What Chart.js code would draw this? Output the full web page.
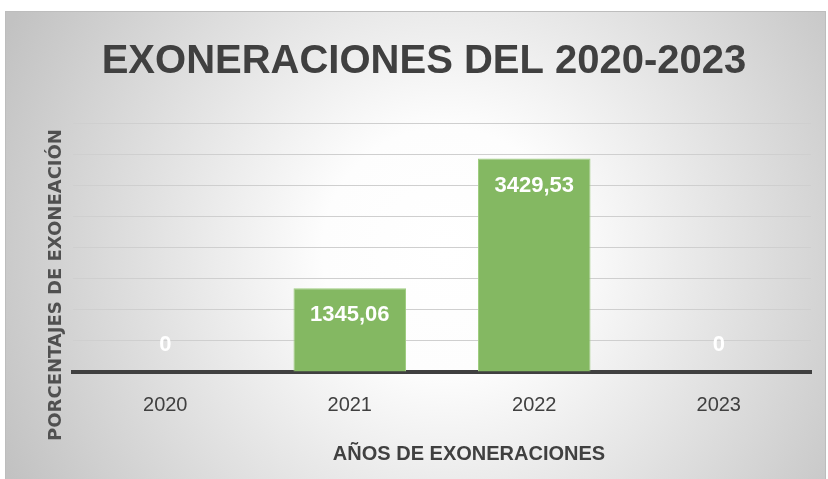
<!DOCTYPE html>
<html>
<head>
<meta charset="utf-8">
<script src="https://cdn.jsdelivr.net/npm/chart.js"></script>
<style>
  html, body { margin: 0; padding: 0; background: #fff; }
  #wrap { width: 828px; height: 479px; position: relative; }
</style>
</head>
<body>
<div id="wrap"><canvas id="exoChart"></canvas></div>
<script>
// datos del grafico
var categorias = ['2020', '2021', '2022', '2023'];
var exoneraciones = [0, 1345.06, 3429.53, 0];
var ejeY = [0, 4000, 500]; // min, max, paso

var fuente = '"Liberation Sans", Arial, sans-serif';

// fondo con degradado radial y marco
var fondo = {
    id: 'fondo',
    beforeDraw: function (chart) {
        var ctx = chart.ctx;
        ctx.save();
        ctx.fillStyle = '#ffffff';
        ctx.fillRect(0, 0, chart.width, chart.height);
        var g = ctx.createRadialGradient(445, 250, 0, 445, 250, 490);
        g.addColorStop(0, '#ffffff');
        g.addColorStop(0.25, '#fdfdfd');
        g.addColorStop(1, '#c2c2c2');
        ctx.fillStyle = g;
        ctx.fillRect(5, 11, 820, 470);
        ctx.strokeStyle = '#bdbdbd';
        ctx.lineWidth = 1;
        ctx.strokeRect(5.5, 11.5, 820, 470);
        ctx.restore();
    }
};

// etiquetas de datos y titulos de ejes
var etiquetas = {
    id: 'etiquetas',
    afterDatasetsDraw: function (chart) {
        var ctx = chart.ctx;
        var meta = chart.getDatasetMeta(0);
        ctx.save();
        ctx.fillStyle = '#ffffff';
        ctx.font = 'bold 22px ' + fuente;
        ctx.textAlign = 'center';
        ctx.textBaseline = 'middle';
        meta.data.forEach(function (bar, i) {
            var v = exoneraciones[i];
            var txt = v === 0 ? '0' : v.toFixed(2).replace('.', ',');
            var y = v === 0 ? bar.base - 27 : bar.y + 27;
            ctx.fillText(txt, bar.x, y);
        });
        ctx.restore();
    },
    afterDraw: function (chart) {
        var ctx = chart.ctx;
        ctx.save();
        ctx.textAlign = 'center';
        ctx.textBaseline = 'middle';
        ctx.fillStyle = '#404040';
        ctx.font = 'bold 20px ' + fuente;
        ctx.fillText('AÑOS DE EXONERACIONES', 469, 454);
        ctx.translate(56, 285);
        ctx.rotate(-Math.PI / 2);
        ctx.fillStyle = '#505050';
        ctx.font = 'bold 18px "DejaVu Sans", sans-serif';
        ctx.fillText('PORCENTAJES DE EXONEACIÓN', 0, 0);
        ctx.restore();
    }
};

var ctx = document.getElementById('exoChart').getContext('2d');
var exoChart = new Chart(ctx, {
    type: 'bar',
    data: {
        labels: categorias,
        datasets: [{
            label: 'Exoneraciones',
            data: exoneraciones,
            backgroundColor: 'rgb(132, 184, 98)',
            borderColor: 'rgb(160, 205, 130)',
            borderWidth: 1,
            barPercentage: 0.61,
            categoryPercentage: 1
        }]
    },
    options: {
        responsive: true,
        maintainAspectRatio: false,
        animation: false,
        layout: { padding: { left: 37, right: 17, top: 11, bottom: 0 } },
        plugins: {
            legend: { display: false },
            tooltip: { enabled: false },
            title: {
                display: true,
                text: 'EXONERACIONES DEL 2020-2023',
                color: '#404040',
                font: { family: fuente, size: 40, weight: 'bold', lineHeight: 1.2 },
                padding: { top: 27, bottom: 37 }
            }
        },
        scales: {
            x: {
                grid: { display: false, drawTicks: false },
                border: { display: true, color: '#404040', width: 4 },
                ticks: { color: '#404040', font: { family: fuente, size: 20 }, padding: 21 },
                afterFit: function (s) { s.height = 107; }
            },
            y: {
                min: ejeY[0],
                max: ejeY[1],
                ticks: { display: false, stepSize: ejeY[2] },
                grid: { color: '#cfcfcf', lineWidth: 1, drawTicks: false },
                border: { display: false },
                afterFit: function (s) { s.width = 36; }
            }
        }
    },
    plugins: [fondo, etiquetas]
});
</script>
</body>
</html>
